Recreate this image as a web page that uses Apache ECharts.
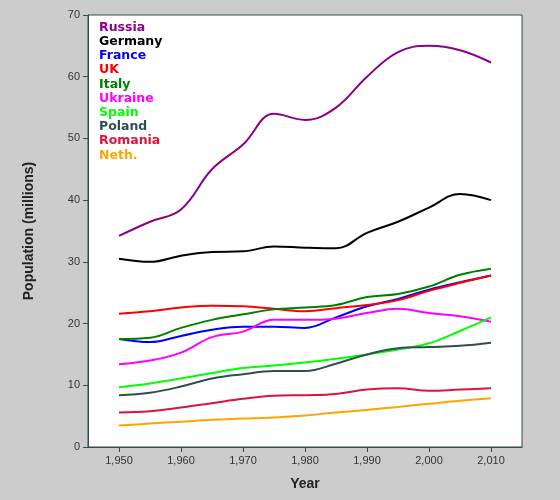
<!DOCTYPE html>
<html><head><meta charset="utf-8">
<script src="https://cdn.jsdelivr.net/npm/echarts@6/dist/echarts.min.js"></script>
<style>html,body{margin:0;padding:0;background:#cccccc}#c{width:560px;height:500px}</style>
</head><body><div id="c"></div>
<script>
const years = [1950,1955,1960,1965,1970,1975,1980,1985,1990,1995,2000,2005,2010];
const names = ["Russia","Germany","France","UK","Italy","Ukraine","Spain","Poland","Romania","Neth."];
const colors = ["#8b008b","#000000","#0000ff","#ff0000","#008000","#ff00ff","#00ff00","#2f4f4f","#dc143c","#ffa500"];
const russia  = [34.2,36.5,38.5,45,49,54,53,55,60,64,65,64.3,62.3];
const germany = [30.5,30,31,31.6,31.7,32.5,32.3,32.2,34.7,36.5,38.8,41,40];
const france  = [17.5,17,18,19,19.5,19.5,19.3,21,22.8,24,25.5,26.7,27.8];
const uk      = [21.6,22,22.6,22.9,22.8,22.4,22,22.5,23,23.8,25.3,26.6,27.8];
const italy   = [17.5,17.7,19.3,20.6,21.5,22.3,22.6,23,24.3,24.8,26,27.9,28.9];
const ukraine = [13.4,14,15.3,17.8,18.7,20.6,20.6,20.8,21.7,22.4,21.7,21.2,20.3];
const spain   = [9.7,10.3,11.1,12,12.8,13.2,13.7,14.3,15,15.8,16.8,18.8,21];
const poland  = [8.4,8.8,9.8,11.1,11.8,12.3,12.3,13.5,15,16,16.2,16.4,16.9];
const romania = [5.6,5.8,6.4,7.1,7.8,8.3,8.4,8.6,9.3,9.5,9.1,9.3,9.5];
const neth    = [3.5,3.8,4.1,4.4,4.6,4.8,5.1,5.6,6.0,6.5,7,7.5,7.9];
const values = [russia,germany,france,uk,italy,ukraine,spain,poland,romania,neth];
const xTicks = [1950,1960,1970,1980,1990,2000,2010];
const axColor = '#2f4f4f';
const chart = echarts.init(document.getElementById('c'));
chart.setOption({
  backgroundColor:'#cccccc',
  animation:false,
  grid:{left:88,right:38,top:15,bottom:53,show:true,backgroundColor:'#ffffff',borderColor:axColor,borderWidth:1},
  legend:{orient:'vertical',left:94,top:16,itemGap:1.2,icon:'none',itemWidth:0,itemHeight:13,
    textStyle:{fontSize:12.5,fontWeight:'bold',fontFamily:'DejaVu Sans',padding:[0,0,0,-5]},
    data:names.map((n,i)=>({name:n,textStyle:{color:colors[i]}}))},
  xAxis:{type:'value',min:1945,max:2015,name:'Year',nameLocation:'middle',nameGap:30,
    nameTextStyle:{fontSize:14,fontWeight:'bold',color:'#222'},
    splitLine:{show:false},axisLine:{lineStyle:{color:axColor}},
    axisTick:{customValues:xTicks,length:5,lineStyle:{color:axColor}},
    axisLabel:{customValues:xTicks,color:'#333',fontSize:11}},
  yAxis:{type:'value',min:0,max:70,interval:10,name:'Population (millions)',nameLocation:'middle',nameGap:52,
    nameTextStyle:{fontSize:14,fontWeight:'bold',color:'#222'},
    splitLine:{show:false},axisLine:{show:true,lineStyle:{color:axColor}},
    axisTick:{show:true,length:5,lineStyle:{color:axColor}},axisLabel:{color:'#333',fontSize:11}},
  series:names.map((n,i)=>({name:n,type:'line',smooth:0.4,showSymbol:false,
    data:years.map((y,j)=>[y,values[i][j]]),lineStyle:{width:2,color:colors[i]},itemStyle:{color:colors[i]}}))
});
</script></body></html>
